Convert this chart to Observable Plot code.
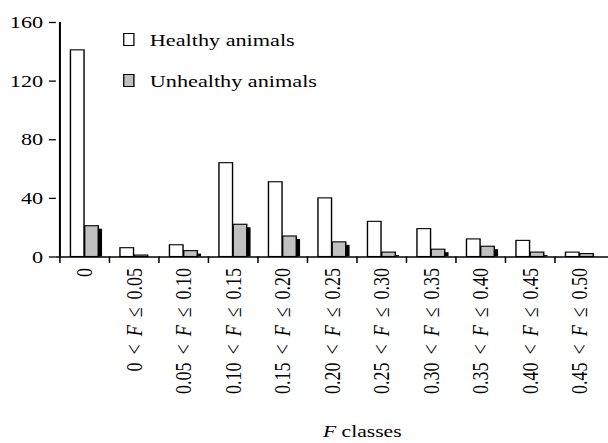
<!DOCTYPE html>
<html>
<head>
<meta charset="utf-8">
<script src="https://cdn.jsdelivr.net/npm/d3@7"></script>
<script src="https://cdn.jsdelivr.net/npm/@observablehq/plot@0.6"></script>
<style>
  html, body { margin: 0; padding: 0; background: #fff; overflow: hidden; }
  #wrap { position: relative; width: 479px; height: 443px; transform: scaleX(1.2693); transform-origin: 0 0;
          font-family: "Liberation Serif", serif; font-size: 17.5px; color: #000; }
  #wrap svg { position: absolute; left: 0; top: 0; }
  .lg-box { position: absolute; box-sizing: border-box; width: 9.3px; height: 13.4px; border: 1px solid #000; }
  .lg-txt { position: absolute; line-height: 17px; white-space: nowrap; }
  .ax-title { position: absolute; line-height: 17px; white-space: nowrap; font-size: 17px; }
</style>
</head>
<body>
<div id="wrap"></div>
<script>
// ---- data ----
const categories = ["0", "0 < F ≤ 0.05", "0.05 < F ≤ 0.10", "0.10 < F ≤ 0.15", "0.15 < F ≤ 0.20",
  "0.20 < F ≤ 0.25", "0.25 < F ≤ 0.30", "0.30 < F ≤ 0.35", "0.35 < F ≤ 0.40", "0.40 < F ≤ 0.45", "0.45 < F ≤ 0.50"];
const healthy   = [141, 6, 8, 64, 51, 40, 24, 19, 12, 11, 3];
const unhealthy = [21, 1, 4, 22, 14, 10, 3, 5, 7, 3, 2];
const yTicks = [0, 40, 80, 120, 160];
const seriesNames = ["Healthy animals", "Unhealthy animals"];
const seriesColors = ["#ffffff", "#c0c0c0"];
const axisTitle = "F classes";

// ---- layout ----
const W = 479, H = 443, mL = 44, mR = 0, mT = 22, mB = 186.5;
const bw = (W - mL - mR) / categories.length;

const rowsH = categories.map((c, i) => ({cat: c, value: healthy[i]}));
const rowsU = categories.map((c, i) => ({cat: c, value: unhealthy[i]}));

const chart = Plot.plot({
  width: W, height: H,
  marginLeft: mL, marginRight: mR, marginTop: mT, marginBottom: mB,
  style: {fontFamily: '"Liberation Serif", serif', fontSize: "17.5px", color: "#000", background: "transparent", overflow: "visible"},
  x: {domain: categories, padding: 0},
  y: {domain: [0, 160]},
  marks: [
    Plot.barY(rowsH, {x: "cat", y: "value", fill: seriesColors[0], stroke: "#000", strokeWidth: 1.1, insetLeft: 8.5, insetRight: 19.8}),
    Plot.barY(rowsU, {x: "cat", y: "value", fill: "#000", insetLeft: 19.7, insetRight: 8.6, dx: 3, dy: 3, clip: true}),
    Plot.barY(rowsU, {x: "cat", y: "value", fill: seriesColors[1], stroke: "#000", strokeWidth: 1.1, insetLeft: 19.7, insetRight: 8.6}),
    Plot.ruleY([0], {strokeWidth: 1.6}),
    Plot.ruleX([categories[0]], {y1: 0, y2: 160, dx: -bw / 2, strokeWidth: 1.6}),
    Plot.axisY({ticks: yTicks, tickSize: 5.5, tickPadding: 5, label: null, strokeWidth: 1.3}),
    Plot.axisX({fill: "none", tickSize: 6.5, dx: -bw / 2, label: null, strokeWidth: 1.2}),
    Plot.axisX({tickSize: 0, tickRotate: -90, tickPadding: 11, label: null, fontSize: 18})
  ]
});

const wrap = document.getElementById("wrap");
wrap.appendChild(chart);

// italic F in the class labels, wider word spacing
d3.select(chart).selectAll('g[aria-label="x-axis tick label"] text').each(function() {
  const t = d3.select(this);
  const s = this.textContent;
  if (s.includes("F")) {
    const parts = s.split("F");
    t.text(null);
    t.append("tspan").text(parts[0]);
    t.append("tspan").attr("font-style", "italic").text("F");
    t.append("tspan").text(parts[1]);
  }
  t.style("word-spacing", "3.5px").style("font-size", "18px");
});

// legend
const lgTops = [33, 74];
seriesNames.forEach((name, i) => {
  const b = document.createElement("div");
  b.className = "lg-box";
  b.style.left = "97px"; b.style.top = lgTops[i] + "px"; b.style.background = seriesColors[i];
  wrap.appendChild(b);
  const t = document.createElement("div");
  t.className = "lg-txt";
  t.style.left = "118px"; t.style.top = (lgTops[i] - 1.5) + "px";
  t.textContent = name;
  wrap.appendChild(t);
});

// x axis title
const at = document.createElement("div");
at.className = "ax-title";
at.style.left = "254.5px"; at.style.top = "423px";
const parts = axisTitle.split("F");
at.appendChild(document.createTextNode(parts[0]));
const it = document.createElement("i"); it.textContent = "F"; at.appendChild(it);
at.appendChild(document.createTextNode(parts[1]));
wrap.appendChild(at);
</script>
</body>
</html>
